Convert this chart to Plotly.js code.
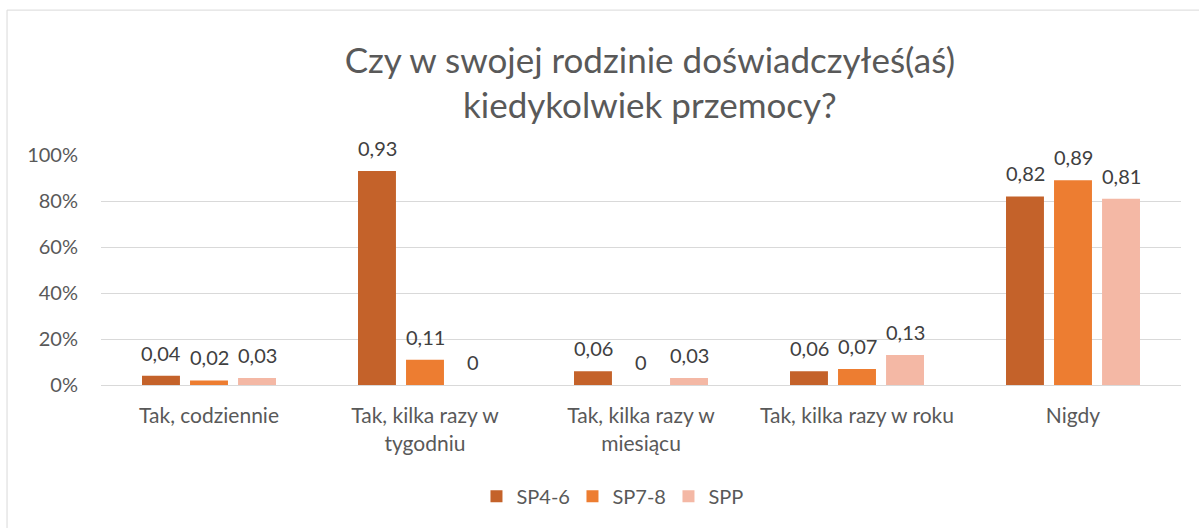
<!DOCTYPE html>
<html>
<head>
<meta charset="utf-8">
<script src="https://cdn.plot.ly/plotly-3.0.1.min.js"></script>
<style>
html,body{margin:0;padding:0;background:#fff;}
#chart{width:1199px;height:528px;}
</style>
</head>
<body>
<div id="chart"></div>
<script>
var categories = ["Tak, codziennie", "Tak, kilka razy w<br>tygodniu", "Tak, kilka razy w<br>miesiącu", "Tak, kilka razy w roku", "Nigdy"];
var seriesNames = ["SP4-6", "SP7-8", "SPP"];
var sp46 = [0.04, 0.93, 0.06, 0.06, 0.82];
var sp78 = [0.02, 0.11, 0, 0.07, 0.89];
var spp = [0.03, 0, 0.03, 0.13, 0.81];
var yTickVals = [0, 0.2, 0.4, 0.6, 0.8, 1.0];
var yTickText = ["0%", "20%", "40%", "60%", "80%", "100%"];
var titleText = "Czy w swojej rodzinie doświadczyłeś(aś)<br>kiedykolwiek przemocy?";

var colors = ["#C4622A", "#ED7D31", "#F4B8A5"];
var values = [sp46, sp78, spp];
var FONT = "Lato, 'Open Sans', sans-serif";
var BAR_PITCH = 48;

function fmt(n){ return String(n).replace(".", ","); }

var traces = values.map(function(v, i){
  return {
    type: "bar",
    name: seriesNames[i],
    x: categories,
    y: v,
    marker: {color: colors[i]},
    hoverinfo: "skip"
  };
});

var annotations = [];
values.forEach(function(v, i){
  v.forEach(function(val, j){
    annotations.push({
      x: categories[j], y: val, xref: "x", yref: "y",
      text: fmt(val), showarrow: false,
      xanchor: "center", yanchor: "bottom",
      xshift: (i - 1) * BAR_PITCH, yshift: 9,
      font: {family: FONT, size: 20, color: "#404040"}
    });
  });
});

var layout = {
  width: 1199,
  height: 528,
  margin: {l: 101, r: 18, t: 155, b: 143},
  paper_bgcolor: "#ffffff",
  plot_bgcolor: "#ffffff",
  font: {family: FONT, color: "#595959", size: 20},
  title: {
    text: titleText,
    font: {family: FONT, size: 35, color: "#595959"},
    x: 0.542, xanchor: "center",
    yref: "container",
    y: 0.862, yanchor: "top"
  },
  barmode: "group",
  bargap: 0.333,
  bargroupgap: 0.21,
  showlegend: true,
  legend: {
    orientation: "h",
    xref: "paper", yref: "container",
    x: 0.481, xanchor: "center",
    y: 0.06, yanchor: "middle",
    entrywidth: 51, entrywidthmode: "pixels",
    font: {family: FONT, size: 20, color: "#595959"},
    itemclick: false
  },
  xaxis: {
    type: "category",
    tickfont: {family: FONT, size: 21, color: "#595959"},
    showline: true,
    linecolor: "#d9d9d9",
    linewidth: 1,
    ticks: "",
    showgrid: false,
    ticklabelstandoff: 12,
    automargin: false
  },
  yaxis: {
    range: [0, 1],
    tickvals: yTickVals,
    ticktext: yTickText,
    tickfont: {family: FONT, size: 20, color: "#595959"},
    showgrid: true,
    gridcolor: "#d9d9d9",
    gridwidth: 1,
    zeroline: false,
    showline: false,
    ticks: "",
    ticklabelstandoff: 22,
    automargin: false
  },
  annotations: annotations,
  shapes: [{
    type: "rect",
    xref: "paper", yref: "paper",
    x0: -0.087, x1: 1.3, y0: -1, y1: 1.630,
    line: {color: "#d9d9d9", width: 1},
    fillcolor: "rgba(0,0,0,0)",
    layer: "below"
  }]
};

Plotly.newPlot("chart", traces, layout, {displayModeBar: false, staticPlot: true});
</script>
</body>
</html>
